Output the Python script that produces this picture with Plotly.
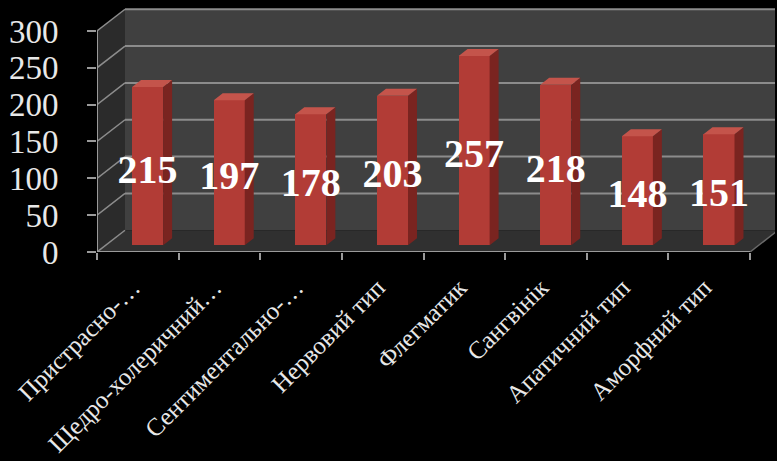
import plotly.graph_objects as go

# Temperament types (Ukrainian) and respondent counts
categories = [
    "Пристрасно-…",
    "Щедро-холеричний…",
    "Сентиментально-…",
    "Нервовий тип",
    "Флегматик",
    "Сангвінік",
    "Апатичний тип",
    "Аморфний тип",
]
values = [215, 197, 178, 203, 257, 218, 148, 151]
y_ticks = [0, 50, 100, 150, 200, 250, 300]

# pseudo-3D geometry (data units)
X_MIN, X_MAX = -0.5, 7.806
Y_MAX = 331.2
WALL_DX, WALL_DY = 0.343, 29.5      # depth of the floor / back wall
BAR_DX, BAR_DY = 0.12, 9.0          # front face position inside the depth
BAR_W = 0.38                        # front face width
SIDE_DX, SIDE_DY = 0.11, 9.5        # bar depth

WALL = "#404040"
SIDE_WALL = "#2b2b2b"
FLOOR = "#303030"
GRID = "#8c8c8c"
AXIS = "#9a9a9a"
FRONT = "#b23c36"
SIDE = "#7a2420"
TOP = "#c4544b"
TEXT = "#e8e8e8"

fig = go.Figure()
shapes = []

def poly(pts, color, line=None):
    path = "M " + " L ".join(f"{x},{y}" for x, y in pts) + " Z"
    return dict(type="path", path=path, xref="x", yref="y", fillcolor=color,
                line=dict(width=0) if line is None else line, layer="below")

x0 = X_MIN
xr = 7.5
wall_right = X_MAX + 0.2
# back wall
shapes.append(poly([(x0 + WALL_DX, WALL_DY), (wall_right, WALL_DY),
                    (wall_right, 300 + WALL_DY), (x0 + WALL_DX, 300 + WALL_DY)], WALL))
# left side wall
shapes.append(poly([(x0, 0), (x0 + WALL_DX, WALL_DY),
                    (x0 + WALL_DX, 300 + WALL_DY), (x0, 300)], SIDE_WALL))
# floor
shapes.append(poly([(x0, 0), (xr, 0), (xr + WALL_DX, WALL_DY),
                    (x0 + WALL_DX, WALL_DY)], FLOOR))
# gridlines on back wall and side wall
for v in y_ticks:
    if v > 0:
        shapes.append(dict(type="line", xref="x", yref="y", x0=x0 + WALL_DX, x1=wall_right,
                           y0=v + WALL_DY, y1=v + WALL_DY, line=dict(color=GRID, width=2),
                           layer="below"))
    shapes.append(dict(type="line", xref="x", yref="y", x0=x0, x1=x0 + WALL_DX,
                       y0=v, y1=v + WALL_DY, line=dict(color=GRID, width=1.5), layer="below"))
# floor edge on the right
shapes.append(dict(type="line", xref="x", yref="y", x0=xr, x1=xr + WALL_DX,
                   y0=0, y1=WALL_DY, line=dict(color="#6a6a6a", width=1.5), layer="below"))
# axis lines
shapes.append(dict(type="line", xref="x", yref="y", x0=x0, x1=x0, y0=0, y1=300,
                   line=dict(color=AXIS, width=2)))
shapes.append(dict(type="line", xref="x", yref="y", x0=x0, x1=xr, y0=0, y1=0,
                   line=dict(color=AXIS, width=2)))

idx = list(range(len(values)))
front_x = [i + BAR_DX for i in idx]

# front faces
fig.add_trace(go.Bar(x=front_x, y=values, base=[BAR_DY] * len(values), width=BAR_W,
                     marker=dict(color=FRONT, line=dict(width=0)), hoverinfo="skip",
                     showlegend=False))

# side and top faces
for cx, v in zip(front_x, values):
    l, r = cx - BAR_W / 2, cx + BAR_W / 2
    top = v + BAR_DY
    fig.add_trace(go.Scatter(
        x=[r, r, r + SIDE_DX, r + SIDE_DX, r],
        y=[BAR_DY, top, top + SIDE_DY, BAR_DY + SIDE_DY, BAR_DY],
        fill="toself", fillcolor=SIDE, line=dict(width=0), mode="lines",
        hoverinfo="skip", showlegend=False))
    fig.add_trace(go.Scatter(
        x=[l, r, r + SIDE_DX, l + SIDE_DX, l],
        y=[top, top, top + SIDE_DY, top + SIDE_DY, top],
        fill="toself", fillcolor=TOP, line=dict(width=0), mode="lines",
        hoverinfo="skip", showlegend=False))

# value labels
fig.add_trace(go.Scatter(
    x=front_x, y=[v / 2 for v in values], mode="text",
    text=[str(v) for v in values],
    textfont=dict(family="Liberation Serif", size=40, color="white", weight="bold"),
    hoverinfo="skip", showlegend=False, cliponaxis=False))

# invisible trace for boundary ticks
fig.add_trace(go.Scatter(x=[X_MIN], y=[0], xaxis="x2", mode="markers",
                         marker=dict(opacity=0), hoverinfo="skip", showlegend=False))

fig.update_layout(
    width=777, height=461,
    margin=dict(l=97, r=2, t=8, b=209),
    paper_bgcolor="black", plot_bgcolor="black",
    shapes=shapes,
    bargap=0,
    xaxis=dict(range=[X_MIN, X_MAX], tickmode="array", tickvals=idx, ticktext=categories,
               tickangle=-45, ticks="", showgrid=False, zeroline=False, showline=False,
               automargin=False,
               tickfont=dict(family="Liberation Serif", size=25, color=TEXT),
               ticklabelshift=-5, ticklabelstandoff=15),
    xaxis2=dict(range=[X_MIN, X_MAX], overlaying="x", anchor="y", side="bottom",
                tickmode="array", tickvals=[i - 0.5 for i in range(9)],
                ticks="outside", ticklen=7, tickwidth=2, tickcolor=AXIS, automargin=False,
                showticklabels=False, showgrid=False, zeroline=False, showline=False),
    yaxis=dict(range=[0, Y_MAX], tickmode="array", tickvals=y_ticks,
               ticks="outside", ticklen=9, tickwidth=2, tickcolor=AXIS,
               showgrid=False, zeroline=False, showline=False, automargin=False,
               tickfont=dict(family="Liberation Serif", size=33, color=TEXT),
               ticklabelstandoff=22),
)

fig.write_html("out.html")
